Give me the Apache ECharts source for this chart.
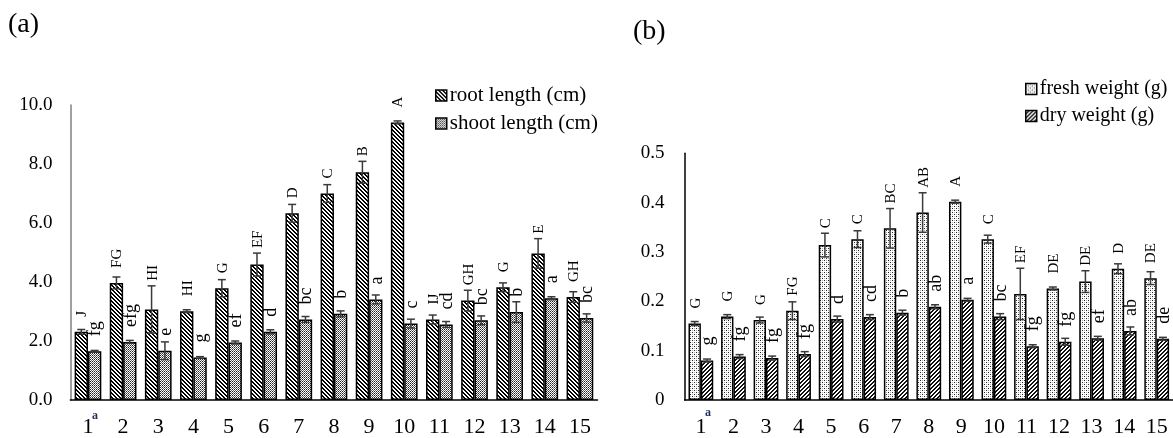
<!DOCTYPE html>
<html>
<head>
<meta charset="utf-8">
<script src="https://cdn.jsdelivr.net/npm/echarts@6/dist/echarts.min.js"></script>
<style>
html,body{margin:0;padding:0;background:#fff;}
#chart{width:1173px;height:438px;}
</style>
</head>
<body>
<div id="chart"></div>
<script>
// ---------- data ----------
const categories = ['1','2','3','4','5','6','7','8','9','10','11','12','13','14','15'];

const rootLength   = [2.31,3.97,3.07,3.01,3.79,4.59,6.33,7.00,7.72,9.41,2.73,3.37,3.82,4.97,3.49];
const rootErr      = [0.08,0.20,0.80,0.05,0.29,0.39,0.30,0.30,0.37,0.05,0.15,0.35,0.15,0.50,0.18];
const rootLetters  = ['J','FG','HI','HI','G','EF','D','C','B','A','IJ','GH','G','E','GH'];

const shootLength  = [1.65,1.97,1.67,1.44,1.95,2.31,2.73,2.92,3.41,2.59,2.56,2.70,2.98,3.45,2.78];
const shootErr     = [0.03,0.05,0.30,0.03,0.05,0.07,0.10,0.10,0.15,0.15,0.10,0.15,0.35,0.05,0.14];
const shootLetters = ['fg','efg','e','g','ef','d','bc','b','a','c','cd','bc','b','a','bc'];

const freshWeight  = [0.155,0.169,0.162,0.181,0.314,0.326,0.348,0.380,0.402,0.326,0.215,0.226,0.240,0.266,0.247];
const freshErr     = [0.004,0.004,0.006,0.018,0.024,0.017,0.040,0.040,0.003,0.008,0.052,0.003,0.022,0.010,0.013];
const freshLetters = ['G','G','G','FG','C','C','BC','AB','A','C','EF','DE','DE','D','DE'];

const dryWeight    = [0.080,0.088,0.085,0.093,0.164,0.168,0.177,0.189,0.203,0.169,0.109,0.118,0.125,0.140,0.124];
const dryErr       = [0.003,0.004,0.004,0.005,0.006,0.005,0.005,0.004,0.003,0.006,0.003,0.007,0.004,0.008,0.003];
const dryLetters   = ['g','fg','fg','fg','d','cd','b','ab','a','bc','fg','fg','ef','ab','de'];

const yTicksA = [0, 2, 4, 6, 8, 10];
const yTicksB = [0, 0.1, 0.2, 0.3, 0.4, 0.5];

// ---------- patterns ----------
function makePattern(size, fn) {
  const c = document.createElement('canvas');
  c.width = size; c.height = size;
  const ctx = c.getContext('2d');
  for (let y = 0; y < size; y++) for (let x = 0; x < size; x++) {
    ctx.fillStyle = fn(x, y);
    ctx.fillRect(x, y, 1, 1);
  }
  return { image: c, repeat: 'repeat' };
}
const rootPat  = makePattern(4, (x, y) => (((x - y + 8) % 4) < 2 ? '#ffffff' : '#000000'));
const dryPat   = makePattern(4, (x, y) => (((x + y) % 4) < 2 ? '#ffffff' : '#111111'));
const shootPat = makePattern(4, (x, y) => ((x + y) % 2 === 0 ? '#ffffff' : ((x % 2 === 0) ? '#222222' : '#666666')));
const freshPat = makePattern(4, (x, y) => {
  if ((x === 0 && y === 0) || (x === 2 && y === 2)) return '#222222';
  if ((x === 0 && y === 2) || (x === 2 && y === 0)) return '#b0b0b0';
  return '#ffffff';
});

const FONT = "'Liberation Serif', 'Times New Roman', serif";
const BAR_FRAC = 0.38;

function errSeries(values, errs, letters, side, xi, yi) {
  return {
    type: 'custom',
    xAxisIndex: xi, yAxisIndex: yi,
    z: 5, clip: false, silent: true,
    encode: { x: 0, y: 1 },
    data: values.map((v, i) => [i, v, errs[i]]),
    renderItem: function (params, api) {
      const i = api.value(0), v = api.value(1), e = api.value(2);
      const band = api.size([1, 0])[0];
      const bw = band * BAR_FRAC;
      const cx = api.coord([i, v])[0] + side * bw / 2;
      const yBar = api.coord([i, v])[1];
      const yTop = api.coord([i, v + e])[1];
      const yBot = api.coord([i, v - e])[1];
      const cap = 4;
      const lw = 1.5, col = '#3a3a3a';
      const letter = letters[i];
      const upper = letter === letter.toUpperCase();
      const anchor = Math.min(yBar - 15, yTop - 5);
      return {
        type: 'group',
        children: [
          { type: 'line', shape: { x1: cx, y1: yTop, x2: cx, y2: yBot }, style: { stroke: col, lineWidth: lw } },
          { type: 'line', shape: { x1: cx - cap, y1: yTop, x2: cx + cap, y2: yTop }, style: { stroke: col, lineWidth: lw } },
          { type: 'line', shape: { x1: cx - cap, y1: yBot, x2: cx + cap, y2: yBot }, style: { stroke: col, lineWidth: lw } },
          { type: 'text', x: cx + 1, y: anchor, rotation: Math.PI / 2,
            style: { text: letter, fill: '#000', fontFamily: 'Liberation Serif', fontSize: upper ? 15 : 18,
                     align: 'left', verticalAlign: 'middle' } }
        ]
      };
    }
  };
}

function barSeries(name, values, pat, xi, yi) {
  return {
    name: name, type: 'bar', xAxisIndex: xi, yAxisIndex: yi,
    data: values, barWidth: (BAR_FRAC * 100) + '%', barGap: '0%',
    itemStyle: { color: pat, borderColor: '#000', borderWidth: 1.5 },
    emphasis: { disabled: true }
  };
}

const option = {
  animation: false,
  backgroundColor: '#fff',
  textStyle: { fontFamily: FONT },
  grid: [
    { left: 70.4, width: 527.1, top: 105, height: 296.7 },
    { left: 684.6, width: 492, top: 153.3, height: 246.7 }
  ],
  xAxis: [
    { type: 'category', gridIndex: 0, data: categories,
      axisLine: { lineStyle: { color: '#000', width: 1.5 } }, axisTick: { show: false },
      axisLabel: { color: '#000', fontFamily: FONT, fontSize: 22, margin: 16 } },
    { type: 'category', gridIndex: 1, data: categories,
      axisLine: { lineStyle: { color: '#000', width: 1.5 } }, axisTick: { show: false },
      axisLabel: { color: '#000', fontFamily: FONT, fontSize: 22, margin: 16 } }
  ],
  yAxis: [
    { type: 'value', gridIndex: 0, min: yTicksA[0], max: yTicksA[yTicksA.length - 1], interval: yTicksA[1] - yTicksA[0],
      axisLine: { show: true, lineStyle: { color: '#808080', width: 1.5 } }, axisTick: { show: false },
      splitLine: { show: false },
      axisLabel: { color: '#000', fontFamily: FONT, fontSize: 19, margin: 18, formatter: v => v.toFixed(1) } },
    { type: 'value', gridIndex: 1, min: yTicksB[0], max: yTicksB[yTicksB.length - 1], interval: 0.1,
      axisLine: { show: true, lineStyle: { color: '#000', width: 1.5 } }, axisTick: { show: false },
      splitLine: { show: false },
      axisLabel: { color: '#000', fontFamily: FONT, fontSize: 19, margin: 20, formatter: v => (v === 0 ? '0' : v.toFixed(1)) } }
  ],
  legend: [
    { orient: 'vertical', left: 430, top: 80, itemWidth: 11, itemHeight: 11, itemGap: 7, icon: 'rect',
      data: ['root length (cm)', 'shoot length (cm)'],
      itemStyle: { borderColor: '#000', borderWidth: 1.5 },
      textStyle: { color: '#000', fontFamily: FONT, fontSize: 21, lineHeight: 21, padding: [0, 0, 0, -2] } },
    { orient: 'vertical', left: 1020, top: 74, itemWidth: 11, itemHeight: 11, itemGap: 7, icon: 'rect',
      data: ['fresh weight (g)', 'dry weight (g)'],
      itemStyle: { borderColor: '#000', borderWidth: 1.5 },
      textStyle: { color: '#000', fontFamily: FONT, fontSize: 20, lineHeight: 20, padding: [0, 0, 0, -2] } }
  ],
  graphic: [
    { type: 'text', x: 8, y: 25, style: { text: '(a)', fill: '#000', font: "28px 'Liberation Serif'", verticalAlign: 'middle' } },
    { type: 'text', x: 633, y: 32, style: { text: '(b)', fill: '#000', font: "28px 'Liberation Serif'", verticalAlign: 'middle' } },
    { type: 'text', x: 92, y: 416, style: { text: 'a', fill: '#1f2a55', font: "bold 12px 'Liberation Serif'", verticalAlign: 'middle' } },
    { type: 'text', x: 705, y: 413, style: { text: 'a', fill: '#1f2a55', font: "bold 12px 'Liberation Serif'", verticalAlign: 'middle' } }
  ],
  series: [
    barSeries('root length (cm)', rootLength, rootPat, 0, 0),
    barSeries('shoot length (cm)', shootLength, shootPat, 0, 0),
    barSeries('fresh weight (g)', freshWeight, freshPat, 1, 1),
    barSeries('dry weight (g)', dryWeight, dryPat, 1, 1),
    errSeries(rootLength, rootErr, rootLetters, -1, 0, 0),
    errSeries(shootLength, shootErr, shootLetters, 1, 0, 0),
    errSeries(freshWeight, freshErr, freshLetters, -1, 1, 1),
    errSeries(dryWeight, dryErr, dryLetters, 1, 1, 1)
  ]
};

const chart = echarts.init(document.getElementById('chart'), null, { renderer: 'canvas' });
chart.setOption(option);
</script>
</body>
</html>
